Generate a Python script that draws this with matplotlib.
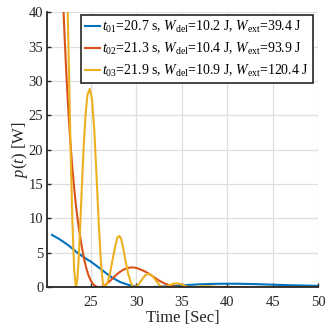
import matplotlib
matplotlib.use("Agg")
import matplotlib.pyplot as plt

plt.rcParams['font.family'] = ['Liberation Serif', 'DejaVu Serif']
plt.rcParams['mathtext.fontset'] = 'custom'
plt.rcParams['mathtext.rm'] = 'Liberation Serif'
plt.rcParams['mathtext.it'] = 'Liberation Serif:italic'
plt.rcParams['mathtext.bf'] = 'Liberation Serif:bold'

# ---- data ----
t1 = [20.7, 21.5, 22.5, 23.5, 24.5, 25.0, 25.5, 26.5, 27.3, 28.2, 29.2, 30.0,
      30.8, 31.6, 32.5, 33.5, 35.0, 37.0, 39.0, 41.0, 43.0, 45.0, 47.0, 49.0, 50.0]
p1 = [7.6, 7.0, 6.1, 5.0, 4.1, 3.7, 3.2, 2.2, 1.4, 0.75, 0.3, 0.08,
      0.0, 0.02, 0.06, 0.14, 0.27, 0.42, 0.5, 0.5, 0.45, 0.36, 0.28, 0.22, 0.19]

t2 = [21.3, 21.5, 21.7, 21.9, 22.1, 22.3, 22.5, 22.7, 22.9, 23.1, 23.3, 23.5,
      23.7, 23.9, 24.1, 24.3, 24.5, 24.7, 24.9, 25.1, 25.3, 25.5, 25.7, 25.9,
      26.2, 26.5, 27.0, 27.5, 28.0, 28.5, 29.0, 29.5, 30.0, 30.5, 31.0, 31.5,
      32.0, 32.5, 33.0, 33.5, 34.0, 34.5, 35.0, 36.0, 37.0, 38.0, 39.0, 40.0,
      42.0, 50.0]
p2 = [66.0, 57.5, 49.5, 42.3, 36.0, 30.5, 25.7, 21.5, 18.0, 15.0, 12.3, 10.1,
      8.2, 6.5, 5.0, 3.7, 2.65, 1.8, 1.15, 0.68, 0.35, 0.14, 0.04, 0.0,
      0.06, 0.25, 0.8, 1.45, 2.05, 2.5, 2.8, 2.88, 2.8, 2.55, 2.25, 1.85,
      1.4, 0.95, 0.6, 0.32, 0.14, 0.05, 0.01, 0.0, 0.02, 0.04, 0.04, 0.03,
      0.01, 0.0]

t3 = [21.9, 22.14, 22.34, 22.54, 22.74, 22.94, 23.14, 23.34,
      23.5, 23.65, 23.8, 24.0, 24.2, 24.4, 24.6, 24.85, 25.1, 25.35, 25.6,
      25.85, 26.1, 26.3, 26.45,
      26.8, 27.1, 27.4, 27.7, 27.9, 28.1, 28.3, 28.55, 28.8, 29.1, 29.4, 29.6,
      29.8,
      30.1, 30.4, 30.7, 31.0, 31.3, 31.6, 31.9, 32.2, 32.5, 32.75, 32.95,
      33.3, 33.6, 33.9, 34.2, 34.5, 34.8, 35.1, 35.4, 35.7, 36.1,
      36.6, 37.1, 37.6, 38.1, 38.6, 39.2, 45.0, 50.0]
p3 = [63.0, 55.6, 45.3, 33.0, 20.4, 9.7, 2.5, 0.0,
      1.3, 4.5, 8.8, 15.0, 20.8, 25.2, 28.0, 28.85, 27.4, 23.0, 16.3,
      9.2, 3.3, 0.6, 0.0,
      0.6, 2.1, 4.2, 6.2, 7.2, 7.45, 7.1, 5.6, 3.8, 1.9, 0.6, 0.12,
      0.0,
      0.2, 0.7, 1.3, 1.75, 1.95, 1.8, 1.4, 0.85, 0.35, 0.08, 0.0,
      0.08, 0.25, 0.42, 0.53, 0.55, 0.47, 0.33, 0.18, 0.06, 0.0,
      0.04, 0.11, 0.14, 0.11, 0.05, 0.0, 0.0, 0.0]

labels = [
    r'$t_{01}$=20.7 s, $W_{\rm del}$=$\it{10.2}$ J, $W_{\rm ext}$=$\it{39.4}$ J',
    r'$t_{02}$=21.3 s, $W_{\rm del}$=$\it{10.4}$ J, $W_{\rm ext}$=$\it{93.9}$ J',
    r'$t_{03}$=21.9 s, $W_{\rm del}$=$\it{10.9}$ J, $W_{\rm ext}$=$\it{120.4}$ J',
]
colors = ['#0072BD', '#D95319', '#EDB120']
xticks = [25, 30, 35, 40, 45, 50]
yticks = [0, 5, 10, 15, 20, 25, 30, 35, 40]

fig = plt.figure(figsize=(3.32, 3.32), dpi=100)
ax = fig.add_axes([0.143, 0.135, 0.815, 0.828])

for t, p, c, lab in zip([t1, t2, t3], [p1, p2, p3], colors, labels):
    ax.plot(t, p, color=c, lw=1.5, label=lab)

ax.set_xlim(20.2, 50)
ax.set_ylim(0, 40)
ax.set_xticks(xticks)
ax.set_yticks(yticks)
ax.grid(True, color='#dfdfdf', lw=0.9)
ax.set_axisbelow(True)
for s in ['top', 'right']:
    ax.spines[s].set_visible(False)
for s in ['left', 'bottom']:
    ax.spines[s].set_color('#262626')
    ax.spines[s].set_linewidth(1.3)
ax.tick_params(direction='in', length=3, width=1, color='#262626',
               labelsize=10.5, labelcolor='#262626')
ax.tick_params(axis='x', pad=6)
ax.tick_params(axis='y', pad=3)
ax.set_xlabel('Time [Sec]', fontsize=12, color='#262626', labelpad=1)
ax.set_ylabel(r'$p(t)$ [W]', fontsize=12, color='#262626', labelpad=-1)

leg = ax.legend(loc='upper left', bbox_to_anchor=(0.123, 0.99), fontsize=10,
                handlelength=1.1, handletextpad=0.15, borderpad=0.3,
                labelspacing=0.42, borderaxespad=0.0, fancybox=False,
                framealpha=1, edgecolor='#262626')
leg.get_frame().set_linewidth(1.2)

fig.savefig('out.png', dpi=100)
